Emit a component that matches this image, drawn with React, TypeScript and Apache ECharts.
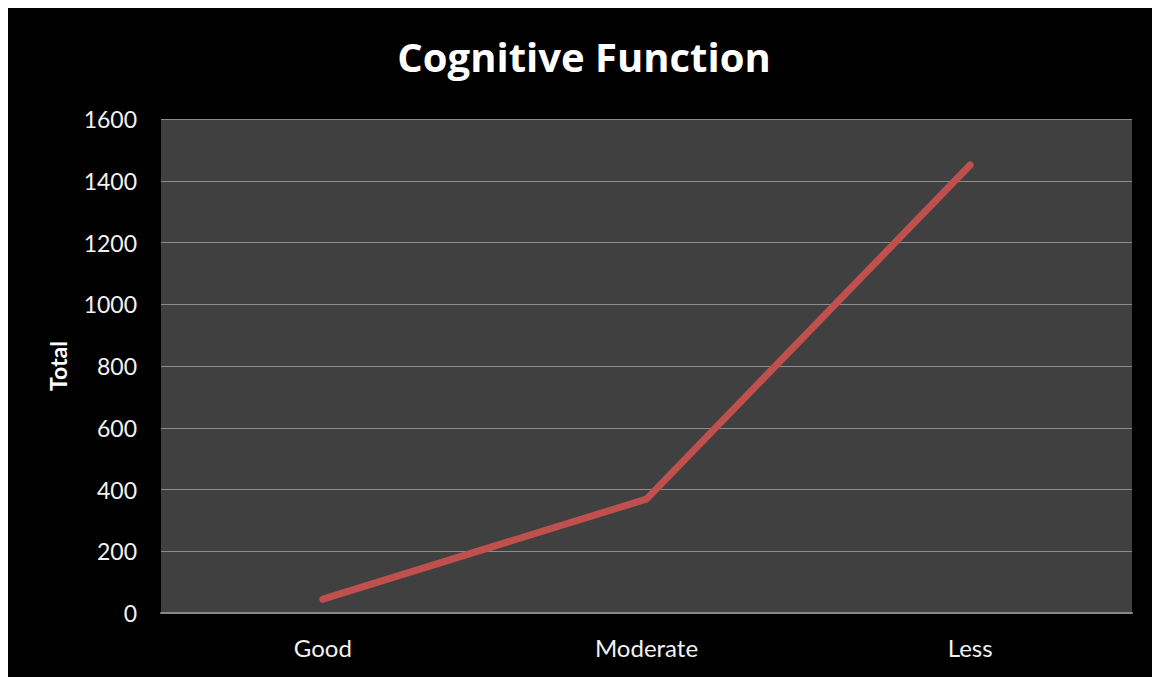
import React, { useEffect, useRef } from "react";
import * as echarts from "echarts";

const categories = ["Good", "Moderate", "Less"];
const totals = [45, 369, 1451];
const yTicks = { min: 0, max: 1600, interval: 200 };

export default function App() {
  const ref = useRef<HTMLDivElement>(null);
  useEffect(() => {
    if (!ref.current) return;
    const chart = echarts.init(ref.current, null, { renderer: "svg" });
    chart.setOption({
      animation: false,
      backgroundColor: "#000000",
      title: {
        text: "Cognitive Function",
        left: "center",
        top: 23,
        textStyle: {
          color: "#ffffff",
          fontSize: 40,
          fontWeight: "bold",
          fontFamily: "Open Sans",
        },
      },
      grid: {
        left: 153,
        right: 28,
        top: 111,
        bottom: 64,
        show: true,
        backgroundColor: "#404040",
        borderWidth: 0,
      },
      xAxis: {
        type: "category",
        data: categories,
        boundaryGap: true,
        axisLine: { show: true, lineStyle: { color: "#868686", width: 2 } },
        axisTick: { show: false },
        axisLabel: {
          color: "#f2f2f2",
          fontSize: 24,
          fontFamily: "Lato",
          margin: 22,
        },
      },
      yAxis: {
        type: "value",
        min: yTicks.min,
        max: yTicks.max,
        interval: yTicks.interval,
        name: "Total",
        nameLocation: "middle",
        nameGap: 92,
        nameRotate: 90,
        nameTextStyle: {
          color: "#ffffff",
          fontSize: 23,
          fontWeight: "bold",
          fontFamily: "Lato",
        },
        axisLine: { show: false },
        axisTick: { show: false },
        splitLine: { lineStyle: { color: "#8c8c8c", width: 1 } },
        axisLabel: {
          color: "#f2f2f2",
          fontSize: 23,
          fontFamily: "Lato",
          margin: 24,
          formatter: (v: number) => String(v),
        },
      },
      series: [
        {
          type: "line",
          data: totals,
          symbol: "none",
          lineStyle: { color: "#c0504d", width: 7, cap: "round", join: "round" },
        },
      ],
    });
    return () => chart.dispose();
  }, []);
  return <div ref={ref} style={{ width: 1152, height: 669 }} />;
}
